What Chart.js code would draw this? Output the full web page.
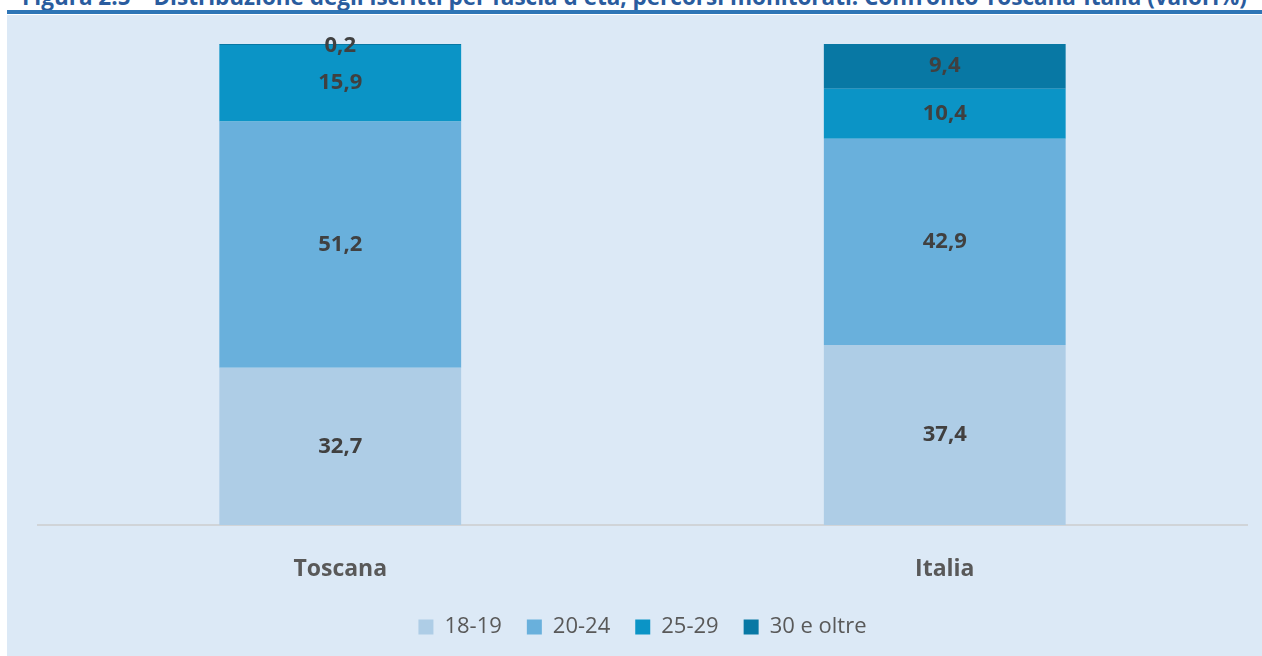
<!DOCTYPE html>
<html>
<head>
<meta charset="utf-8">
<script src="https://cdn.jsdelivr.net/npm/chart.js@4/dist/chart.umd.min.js"></script>
<style>
  body { margin: 0; background: #ffffff; width: 1262px; height: 656px; overflow: hidden; position: relative; font-family: "Open Sans", sans-serif; }
  #title { position: absolute; left: 22px; top: -19px; font-size: 22.5px; font-weight: bold; color: #2a5c9e; white-space: nowrap; }
  #rule { position: absolute; left: 7px; top: 10px; width: 1255px; height: 4px; background: #2e75b6; }
  #panel { position: absolute; left: 7px; top: 15px; width: 1255px; height: 641px; background: #dce9f6; overflow: hidden; }
</style>
</head>
<body>
<div id="title">Figura 2.5 – Distribuzione degli iscritti per fascia d'età, percorsi monitorati. Confronto Toscana-Italia (valori%)</div>
<div id="rule"></div>
<div id="panel"><canvas id="c" width="1255" height="633"></canvas></div>
<script>
var categories = ['Toscana', 'Italia'];
var fasce = ['18-19', '20-24', '25-29', '30 e oltre'];
var val_18_19 = [32.7, 37.4];
var val_20_24 = [51.2, 42.9];
var val_25_29 = [15.9, 10.4];
var val_30_oltre = [0.2, 9.4];
var colori = ['#aecde6', '#69b0dc', '#0b94c6', '#0878a4'];

var series = [val_18_19, val_20_24, val_25_29, val_30_oltre];
var datasets = [];
for (let i = 0; i < fasce.length; i++) {
    datasets.push({
        label: fasce[i],
        data: series[i],
        backgroundColor: colori[i],
        borderWidth: 0,
        barPercentage: 0.8,
        categoryPercentage: 0.5
    });
}

// etichette dei valori al centro di ogni segmento
var valueLabels = {
    id: 'valueLabels',
    afterDatasetsDraw: function (chart) {
        var ctx = chart.ctx;
        ctx.save();
        ctx.font = 'bold 22px "Open Sans", sans-serif';
        ctx.fillStyle = '#404040';
        ctx.textAlign = 'center';
        ctx.textBaseline = 'middle';
        chart.data.datasets.forEach(function (ds, di) {
            chart.getDatasetMeta(di).data.forEach(function (bar, idx) {
                var v = ds.data[idx];
                var y = (bar.y + bar.base) / 2;
                if (v < 1) y = bar.y + 2;
                ctx.fillText(v.toFixed(1).replace('.', ','), bar.x, y);
            });
        });
        ctx.restore();
    }
};

new Chart(document.getElementById('c'), {
    type: 'bar',
    data: { labels: categories, datasets: datasets },
    plugins: [valueLabels],
    options: {
        responsive: false,
        animation: false,
        layout: { padding: { top: 29, left: 31, right: 15, bottom: 0 } },
        scales: {
            x: {
                stacked: true,
                grid: { display: false },
                border: { display: true, color: '#d0d4d8', width: 2 },
                ticks: { color: '#595959', padding: 23, font: { size: 23, weight: 'bold', family: '"Open Sans", sans-serif' } },
                afterFit: function (scale) { scale.height = 66; }
            },
            y: {
                stacked: true,
                display: false,
                min: 0,
                max: 100
            }
        },
        plugins: {
            tooltip: { enabled: false },
            legend: {
                position: 'bottom',
                labels: {
                    color: '#595959',
                    boxWidth: 15,
                    boxHeight: 15,
                    padding: 25,
                    font: { size: 22, family: '"Open Sans", sans-serif' }
                }
            }
        }
    }
});
</script>
</body>
</html>
